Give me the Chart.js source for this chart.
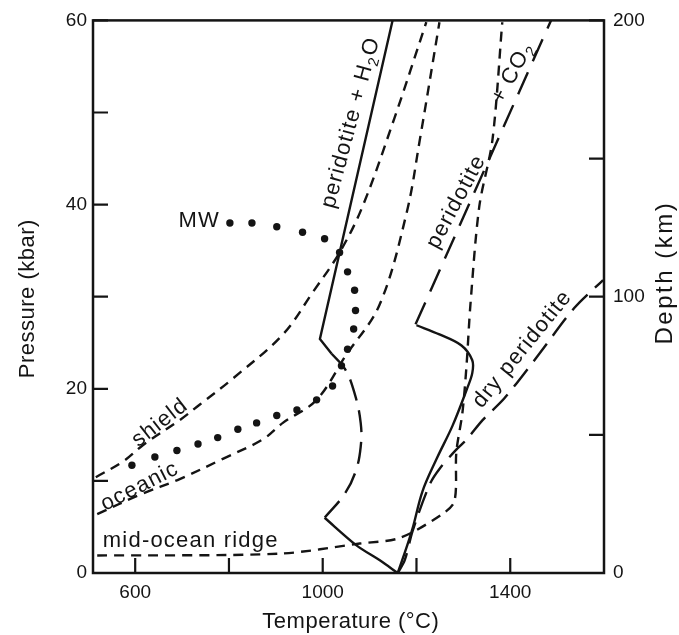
<!DOCTYPE html>
<html>
<head>
<meta charset="utf-8">
<script src="https://cdn.jsdelivr.net/npm/chart.js@4.4.0/dist/chart.umd.min.js"></script>
<style>
  html, body { margin: 0; padding: 0; background: #fff; }
</style>
</head>
<body>
<canvas id="geotherms" width="679" height="635"></canvas>
<script>
// axis ticks
const tempTicks = [600, 800, 1000, 1200, 1400];
const tempLabels = [600, 1000, 1400];
const pressureTicks = [0, 10, 20, 30, 40, 50, 60];
const pressureLabels = [0, 20, 40, 60];
const depthTicks = [0, 50, 100, 150, 200];
const depthLabels = [0, 100, 200];

// geotherms (T in °C, P in kbar)
const shieldT = [516, 574, 617, 695, 738, 808, 915, 979, 1036, 1085, 1153, 1221];
const shieldP = [10.4, 12.1, 13.9, 16.6, 18.3, 21.1, 25.9, 30.5, 34.8, 39.8, 49.4, 59.8];
const oceanicT = [519, 610, 695, 787, 872, 915, 987, 1049, 1121, 1179, 1207, 1249];
const oceanicP = [6.4, 8.5, 10.2, 12.4, 14.5, 16.3, 18.8, 23.6, 29.1, 39.1, 47.0, 59.8];
const ridgeT = [519, 908, 1079, 1164, 1255, 1281, 1285, 1298, 1307, 1315, 1334, 1362, 1383];
const ridgeP = [1.9, 2.1, 3.2, 3.8, 6.4, 7.8, 13.1, 17.4, 22.7, 29.1, 39.8, 47.0, 59.8];

// solidi
const wetT = [1149, 994, 1019];
const wetP = [60, 25.4, 23.8];
const wetBendT = [1019, 1047, 1068, 1081, 1081, 1070, 1047, 1004];
const wetBendP = [23.8, 22.2, 19.5, 16.3, 13.7, 11.0, 8.6, 6.0];
const wetLowT = [1004, 1072, 1121, 1160];
const wetLowP = [6.0, 3.0, 1.4, 0];
const co2LowT = [1160, 1179, 1192, 1213, 1243, 1277, 1307, 1319, 1319, 1296, 1249, 1200];
const co2LowP = [0, 2.8, 4.9, 8.9, 12.4, 16.0, 19.9, 21.7, 23.1, 24.7, 25.9, 26.9];
const co2HighT = [1198, 1487];
const co2HighP = [27.0, 60];
const dryT = [1160, 1175, 1192, 1228, 1249, 1285, 1307, 1341, 1388, 1462, 1537, 1598];
const dryP = [0, 1.4, 4.6, 9.6, 11.3, 13.4, 14.5, 16.6, 19.0, 23.8, 28.8, 31.8];

// MW path (dots)
const mwT = [802, 849, 902, 957, 1004, 1036, 1053, 1068, 1070, 1066, 1053, 1040, 1021, 987, 945, 902, 859, 819, 776, 734, 689, 642, 593];
const mwP = [38.0, 38.0, 37.6, 37.0, 36.3, 34.8, 32.7, 30.7, 28.5, 26.5, 24.3, 22.5, 20.3, 18.8, 17.7, 17.1, 16.3, 15.6, 14.7, 14.0, 13.3, 12.6, 11.7];

const INK = '#141414';
const FONT = "'Liberation Sans', Arial, Helvetica, sans-serif";
Chart.defaults.font.family = FONT;
Chart.defaults.color = INK;

const pts = (xs, ys) => xs.map((x, i) => ({ x: x, y: ys[i] }));

function curve(xs, ys, dash, tension) {
  return {
    data: pts(xs, ys),
    showLine: true,
    pointRadius: 0,
    borderColor: INK,
    borderWidth: 2.4,
    borderDash: dash,
    tension: tension,
    fill: false
  };
}

const SHORT = [10, 7];
const LONG = [22, 10];

const datasets = [
  curve(shieldT, shieldP, SHORT, 0.35),
  curve(oceanicT, oceanicP, SHORT, 0.35),
  curve(ridgeT, ridgeP, SHORT, 0.3),
  curve(wetT, wetP, [], 0),
  curve(wetBendT, wetBendP, LONG, 0.4),
  curve(wetLowT, wetLowP, [], 0.3),
  curve(co2LowT, co2LowP, [], 0.35),
  curve(co2HighT, co2HighP, [24, 12], 0),
  curve(dryT, dryP, LONG, 0.3),
  {
    data: pts(mwT, mwP),
    showLine: false,
    pointRadius: 3.7,
    pointBackgroundColor: INK,
    pointBorderWidth: 0
  }
];

// curve labels, anchored in data units
const notes = [
  { parts: [{ t: 'peridotite + H' }, { t: '2', sub: true }, { t: 'O' }], T: 1060, P: 48.9, angle: -75 },
  { parts: [{ t: '+ CO' }, { t: '2', sub: true }], T: 1405, P: 54.3, angle: -62 },
  { parts: [{ t: 'peridotite' }], T: 1285, P: 40.3, angle: -62 },
  { parts: [{ t: 'dry peridotite' }], T: 1426, P: 24.3, angle: -51 },
  { parts: [{ t: 'shield' }], T: 653, P: 16.3, angle: -38 },
  { parts: [{ t: 'oceanic' }], T: 610, P: 9.4, angle: -27 },
  { parts: [{ t: 'mid-ocean ridge' }], T: 531, P: 3.5, angle: 0, align: 'left' },
  { parts: [{ t: 'MW' }], T: 781, P: 38.2, angle: 0, align: 'right' }
];

function drawRich(ctx, parts, x, y, angle, size, align, spacing) {
  ctx.save();
  ctx.translate(x, y);
  ctx.rotate(angle * Math.PI / 180);
  ctx.letterSpacing = spacing + 'px';
  ctx.textBaseline = 'middle';
  ctx.textAlign = 'left';
  ctx.fillStyle = INK;
  const mainFont = size + 'px ' + FONT;
  const subFont = Math.round(size * 0.68) + 'px ' + FONT;
  let w = 0;
  parts.forEach(p => { ctx.font = p.sub ? subFont : mainFont; w += ctx.measureText(p.t).width; });
  let cx = align === 'left' ? 0 : align === 'right' ? -w : -w / 2;
  parts.forEach(p => {
    ctx.font = p.sub ? subFont : mainFont;
    ctx.fillText(p.t, cx, p.sub ? size * 0.32 : 0);
    cx += ctx.measureText(p.t).width;
  });
  ctx.restore();
}

const framePlugin = {
  id: 'frame',
  afterDatasetsDraw(chart) {
    const ctx = chart.ctx;
    const a = chart.chartArea;
    const x = chart.scales.x, y = chart.scales.y, y2 = chart.scales.y2;
    const len = 15;

    ctx.save();
    ctx.strokeStyle = INK;
    ctx.lineWidth = 2.5;
    ctx.strokeRect(a.left, a.top, a.right - a.left, a.bottom - a.top);

    ctx.lineWidth = 2.2;
    ctx.beginPath();
    tempTicks.forEach(v => {
      const px = x.getPixelForValue(v);
      ctx.moveTo(px, a.bottom); ctx.lineTo(px, a.bottom - len);
    });
    pressureTicks.forEach(v => {
      const py = y.getPixelForValue(v);
      ctx.moveTo(a.left, py); ctx.lineTo(a.left + len, py);
    });
    depthTicks.forEach(v => {
      const py = y2.getPixelForValue(v);
      ctx.moveTo(a.right, py); ctx.lineTo(a.right - len, py);
    });
    ctx.stroke();
    ctx.restore();

    notes.forEach(n => {
      drawRich(ctx, n.parts, x.getPixelForValue(n.T), y.getPixelForValue(n.P),
        n.angle, 22, n.align || 'center', 1.2);
    });

    // axis titles
    drawRich(ctx, [{ t: 'Pressure (kbar)' }], 28, y.getPixelForValue(30) + 2, -90, 22, 'center', 0.5);
    drawRich(ctx, [{ t: 'Depth (km)' }], 665, y2.getPixelForValue(100) - 24, -90, 24, 'center', 2.5);
    drawRich(ctx, [{ t: 'Temperature (°C)' }], x.getPixelForValue(1060), 622, 0, 22, 'center', 0.5);
  }
};

const tickFont = { size: 19 };

new Chart(document.getElementById('geotherms'), {
  type: 'scatter',
  data: { datasets: datasets },
  options: {
    responsive: false,
    animation: false,
    layout: { padding: { top: 11, left: 0, right: 0, bottom: 0 } },
    plugins: { legend: { display: false }, tooltip: { enabled: false } },
    scales: {
      x: {
        type: 'linear', min: 510, max: 1600,
        afterBuildTicks: s => { s.ticks = tempTicks.map(v => ({ value: v })); },
        afterFit: s => { s.height = 62; },
        ticks: {
          autoSkip: false, maxRotation: 0, padding: 8, font: tickFont, color: INK,
          callback: v => tempLabels.includes(v) ? String(v) : ''
        },
        grid: { display: false, drawTicks: false },
        border: { display: false }
      },
      y: {
        type: 'linear', position: 'left', min: 0, max: 60,
        afterBuildTicks: s => { s.ticks = pressureTicks.map(v => ({ value: v })); },
        afterFit: s => { s.width = 93; },
        ticks: {
          autoSkip: false, padding: 6, font: tickFont, color: INK,
          callback: v => pressureLabels.includes(v) ? String(v) : ''
        },
        grid: { display: false, drawTicks: false },
        border: { display: false }
      },
      y2: {
        type: 'linear', position: 'right', min: 0, max: 200,
        afterBuildTicks: s => { s.ticks = depthTicks.map(v => ({ value: v })); },
        afterFit: s => { s.width = 75; },
        ticks: {
          autoSkip: false, padding: 9, font: tickFont, color: INK,
          callback: v => depthLabels.includes(v) ? String(v) : ''
        },
        grid: { display: false, drawTicks: false },
        border: { display: false }
      }
    }
  },
  plugins: [framePlugin]
});
</script>
</body>
</html>
